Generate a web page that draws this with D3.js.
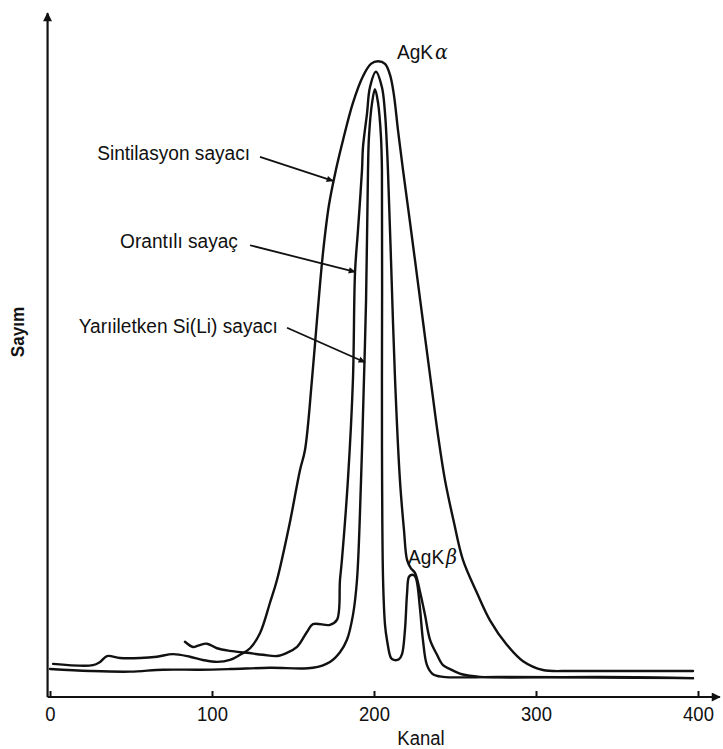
<!DOCTYPE html>
<html><head><meta charset="utf-8">
<script src="https://cdn.jsdelivr.net/npm/d3@7/dist/d3.min.js"></script>
<style>
html,body{margin:0;padding:0;background:#fff;}
svg{display:block;}
text{font-family:"Liberation Sans",Arial,Helvetica,sans-serif;fill:#111;}
</style></head>
<body>
<svg id="chart" width="723" height="749"></svg>
<script>
// ---- data (channel, counts in arbitrary units) ----
const sintChannel = [1.9,26.5,30.9,35.2,43.2,55.6,66.0,75.9,86.4,94.4,103.1,111.1,117.3,123.5,129.6,135.8,140.1,148.1,154.3,157.4,161.7,164.8,168.5,172.2,176.5,180.9,187.0,193.2,198.1,202.5,206.8,209.9,212.3,214.8,217.9,221.6,225.3,230.9,235.8,239.5,243.8,249.4,254.9,263.6,271.6,282.1,292.0,304.3,321.0,339.5,396.9];
const sintCounts  = [5.1,4.9,5.4,6.3,6.0,6.0,6.2,6.6,6.2,5.7,5.4,5.7,6.5,7.5,9.8,14.5,18.0,26.9,34.9,38.0,48.8,58.0,68.3,75.7,81.1,85.7,91.4,95.5,97.4,97.8,97.4,95.7,92.6,87.2,81.1,74.2,67.2,56.5,47.2,40.3,33.4,26.8,21.1,16.0,11.8,8.0,5.5,4.15,4.0,4.0,4.0];

const orantChannel = [83.3,88.3,91.4,96.9,103.1,111.1,121.6,131.5,140.1,146.3,152.5,158.6,162.3,172.8,177.2,179.0,180.2,183.9,187.0,188.3,190.1,192.6,193.2,195.7,197.5,201.2,204.9,206.8,208.0,208.6,210.5,213.0,216.0,218.5,220.4,222.8,225.3,228.4,231.5,234.6,238.9,242.6,246.9,254.3,265.4,339.5,396.9];
const orantCounts  = [8.5,7.7,7.9,8.2,7.5,7.1,6.8,6.5,6.3,6.8,7.7,10.0,11.2,11.1,11.9,18.0,21.1,33.4,48.8,65.4,71.8,81.1,84.6,89.8,93.8,96.2,93.8,89.8,84.6,81.1,67.2,48.8,33.4,25.7,21.1,19.8,19.1,16.2,12.6,8.8,6.5,4.9,4.3,3.5,3.1,3.1,2.9];

const siliChannel = [0,24.7,49.4,69.8,92.6,111.1,135.8,162.3,172.8,179.0,183.3,187.0,189.5,192.0,193.8,195.1,196.3,196.9,198.8,200.6,202.5,204.3,204.9,204.9,205.0,205.6,206.8,208.0,210.5,212.3,215.4,217.3,219.1,220.4,221.6,223.5,225.3,226.5,228.4,230.2,232.7,236.4,242.6,277.8,339.5,396.9];
const siliCounts  = [4.3,4.0,3.9,4.2,4.2,4.3,4.5,4.5,5.4,6.9,8.8,12.6,18.0,33.4,48.8,61.1,81.1,86.2,91.4,93.5,91.4,86.2,81.1,48.8,33.4,18.0,11.1,8.8,6.0,5.7,5.8,6.6,10.3,15.9,18.5,18.8,18.6,17.7,13.6,8.8,4.9,3.5,3.1,3.1,3.0,2.9];

const xTicks = [0,100,200,300,400];

// annotation labels and arrows (channel, counts)
const labelText   = ["Sintilasyon sayacı","Orantılı sayaç","Yarıiletken Si(Li) sayacı"];
const labelAnchor = [[123.5,83.7],[116.0,70.2],[140.7,57.2]];
const arrowFrom   = [[129.6,83.1],[123.5,69.5],[146.3,56.8]];
const arrowTo     = [[174.7,79.4],[188.3,65.4],[194.4,51.5]];
const peakText    = ["AgK","AgK"];
const peakGreek   = ["α","β"];
const peakAnchor  = [[214.2,99.3],[221.0,21.6]];

// ---- drawing ----
const svg = d3.select("#chart");
const x = d3.scaleLinear().domain([0,400]).range([50,698]);
const y = d3.scaleLinear().domain([0,100]).range([697,47]);
const SX = 0.88;

const defs = svg.append("defs");
defs.append("marker").attr("id","ah").attr("viewBox","0 0 10 10")
  .attr("refX",9).attr("refY",5).attr("markerWidth",9).attr("markerHeight",7)
  .attr("markerUnits","userSpaceOnUse").attr("orient","auto")
  .append("path").attr("d","M0,0.5 L10,5 L0,9.5 Z").attr("fill","#111");
defs.append("marker").attr("id","axh").attr("viewBox","0 0 10 10")
  .attr("refX",9).attr("refY",5).attr("markerWidth",10).attr("markerHeight",9)
  .attr("markerUnits","userSpaceOnUse").attr("orient","auto")
  .append("path").attr("d","M0,0 L10,5 L0,10 Z").attr("fill","#111");

// axes lines with arrows
const x0 = x(-1.5);
svg.append("line").attr("x1",x0).attr("y1",y(0)).attr("x2",x0).attr("y2",y(105.2))
  .attr("stroke","#111").attr("stroke-width",2.2).attr("marker-end","url(#axh)");
svg.append("line").attr("x1",x0).attr("y1",y(0)).attr("x2",x(413.5)).attr("y2",y(0))
  .attr("stroke","#111").attr("stroke-width",2.2).attr("marker-end","url(#axh)");

const xAxis = d3.axisBottom(x).tickValues(xTicks).tickSizeInner(-6).tickSizeOuter(0).tickPadding(9);
const gx = svg.append("g").attr("transform",`translate(0,${y(0)})`).call(xAxis);
gx.select(".domain").remove();
gx.selectAll(".tick line").attr("stroke","#111").attr("stroke-width",2);
gx.selectAll(".tick text").attr("font-size",21).attr("fill","#111")
  .attr("font-family",'"Liberation Sans",Arial,sans-serif')
  .attr("transform",`scale(${SX},1)`);

svg.append("text").attr("x",421).attr("y",745).attr("text-anchor","middle")
  .attr("font-size",21).attr("transform",`translate(421,0) scale(${SX},1) translate(-421,0)`).text("Kanal");
svg.append("text").attr("transform","translate(24,332) rotate(-90) scale(0.9,1)")
  .attr("text-anchor","middle").attr("font-size",19).attr("font-weight","bold").text("Sayım");

// curves
const line = d3.line().x(d=>x(d[0])).y(d=>y(d[1])).curve(d3.curveCatmullRom.alpha(0.5));
const series = [
  d3.zip(sintChannel,sintCounts),
  d3.zip(orantChannel,orantCounts),
  d3.zip(siliChannel,siliCounts)
];
svg.selectAll("path.curve").data(series).enter().append("path").attr("class","curve")
  .attr("d",line).attr("fill","none").attr("stroke","#111").attr("stroke-width",2.4)
  .attr("stroke-linejoin","round").attr("stroke-linecap","round");

// annotation arrows
svg.selectAll("line.ann").data(d3.range(arrowFrom.length)).enter().append("line").attr("class","ann")
  .attr("x1",i=>x(arrowFrom[i][0])).attr("y1",i=>y(arrowFrom[i][1]))
  .attr("x2",i=>x(arrowTo[i][0])).attr("y2",i=>y(arrowTo[i][1]))
  .attr("stroke","#111").attr("stroke-width",1.8).attr("marker-end","url(#ah)");

svg.selectAll("text.lab").data(d3.range(labelText.length)).enter().append("text").attr("class","lab")
  .attr("transform",i=>`translate(${x(labelAnchor[i][0])},${y(labelAnchor[i][1])}) scale(${SX+0.03},1)`)
  .attr("text-anchor","end").attr("dy","0.35em").attr("font-size",21).text(i=>labelText[i]);

const pk = svg.selectAll("text.pk").data(d3.range(peakText.length)).enter().append("text").attr("class","pk")
  .attr("transform",i=>`translate(${x(peakAnchor[i][0])},${y(peakAnchor[i][1])}) scale(${SX+0.03},1)`)
  .attr("dy","0.35em").attr("font-size",21);
pk.append("tspan").text(i=>peakText[i]);
pk.append("tspan").attr("font-family",'"DejaVu Serif","Liberation Serif",serif').attr("font-style","italic")
  .attr("dx",2).text(i=>peakGreek[i]);
</script>
</body></html>
